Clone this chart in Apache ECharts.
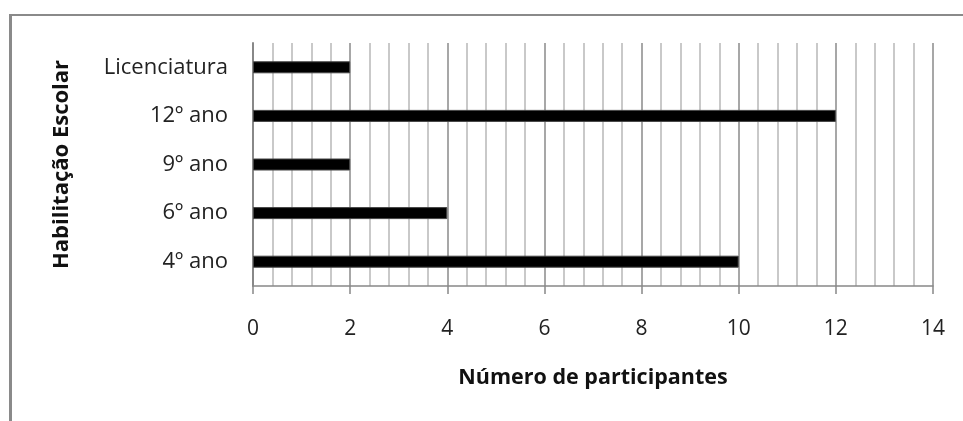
<!DOCTYPE html>
<html>
<head>
<meta charset="utf-8">
<script src="https://cdn.jsdelivr.net/npm/echarts@6/dist/echarts.min.js"></script>
<style>
html,body{margin:0;padding:0;background:#fff;}
#chart{width:963px;height:421px;}
</style>
</head>
<body>
<div id="chart"></div>
<script>
var categories = ['4º ano', '6º ano', '9º ano', '12º ano', 'Licenciatura'];
var participantes = [10, 4, 2, 12, 2];
var xTicks = [0, 2, 4, 6, 8, 10, 12, 14];
var xAxisTitle = 'Número de participantes';
var yAxisTitle = 'Habilitação Escolar';

var FONT = 'Open Sans';
var chart = echarts.init(document.getElementById('chart'), null, {renderer: 'canvas'});
chart.setOption({
  animation: false,
  backgroundColor: '#fff',
  graphic: [
    {type: 'line', shape: {x1: 10, y1: 15, x2: 963, y2: 15}, style: {stroke: '#8a8a8a', lineWidth: 2}, silent: true},
    {type: 'line', shape: {x1: 10.5, y1: 14, x2: 10.5, y2: 421}, style: {stroke: '#8a8a8a', lineWidth: 3}, silent: true}
  ],
  grid: {left: 253, right: 30, top: 43, bottom: 135, containLabel: false},
  xAxis: {
    type: 'value',
    min: xTicks[0],
    max: xTicks[xTicks.length - 1],
    interval: 2,
    name: xAxisTitle,
    nameLocation: 'middle',
    nameGap: 81,
    nameTextStyle: {fontFamily: FONT, fontSize: 21.5, fontWeight: 'bold', color: '#111'},
    axisLine: {show: true, lineStyle: {color: '#888', width: 1.5}},
    axisTick: {show: true, length: 8, lineStyle: {color: '#888', width: 1.5}},
    axisLabel: {fontFamily: FONT, fontSize: 21, color: '#222', margin: 33},
    splitLine: {show: true, lineStyle: {color: '#8a8a8a', width: 1.5}},
    minorTick: {show: false, splitNumber: 5},
    minorSplitLine: {show: true, lineStyle: {color: '#b8b8b8', width: 1.5}}
  },
  yAxis: {
    type: 'category',
    data: categories,
    name: yAxisTitle,
    nameLocation: 'middle',
    nameGap: 180,
    nameRotate: 90,
    nameTextStyle: {fontFamily: FONT, fontSize: 22, fontWeight: 'bold', color: '#111'},
    axisLine: {show: true, lineStyle: {color: '#888', width: 2}},
    axisTick: {show: false},
    axisLabel: {fontFamily: FONT, fontSize: 22, color: '#222', margin: 25},
    splitLine: {show: false}
  },
  series: [{
    type: 'bar',
    data: participantes,
    barWidth: 12,
    itemStyle: {color: '#000', borderColor: '#444', borderWidth: 1}
  }]
});
</script>
</body>
</html>
